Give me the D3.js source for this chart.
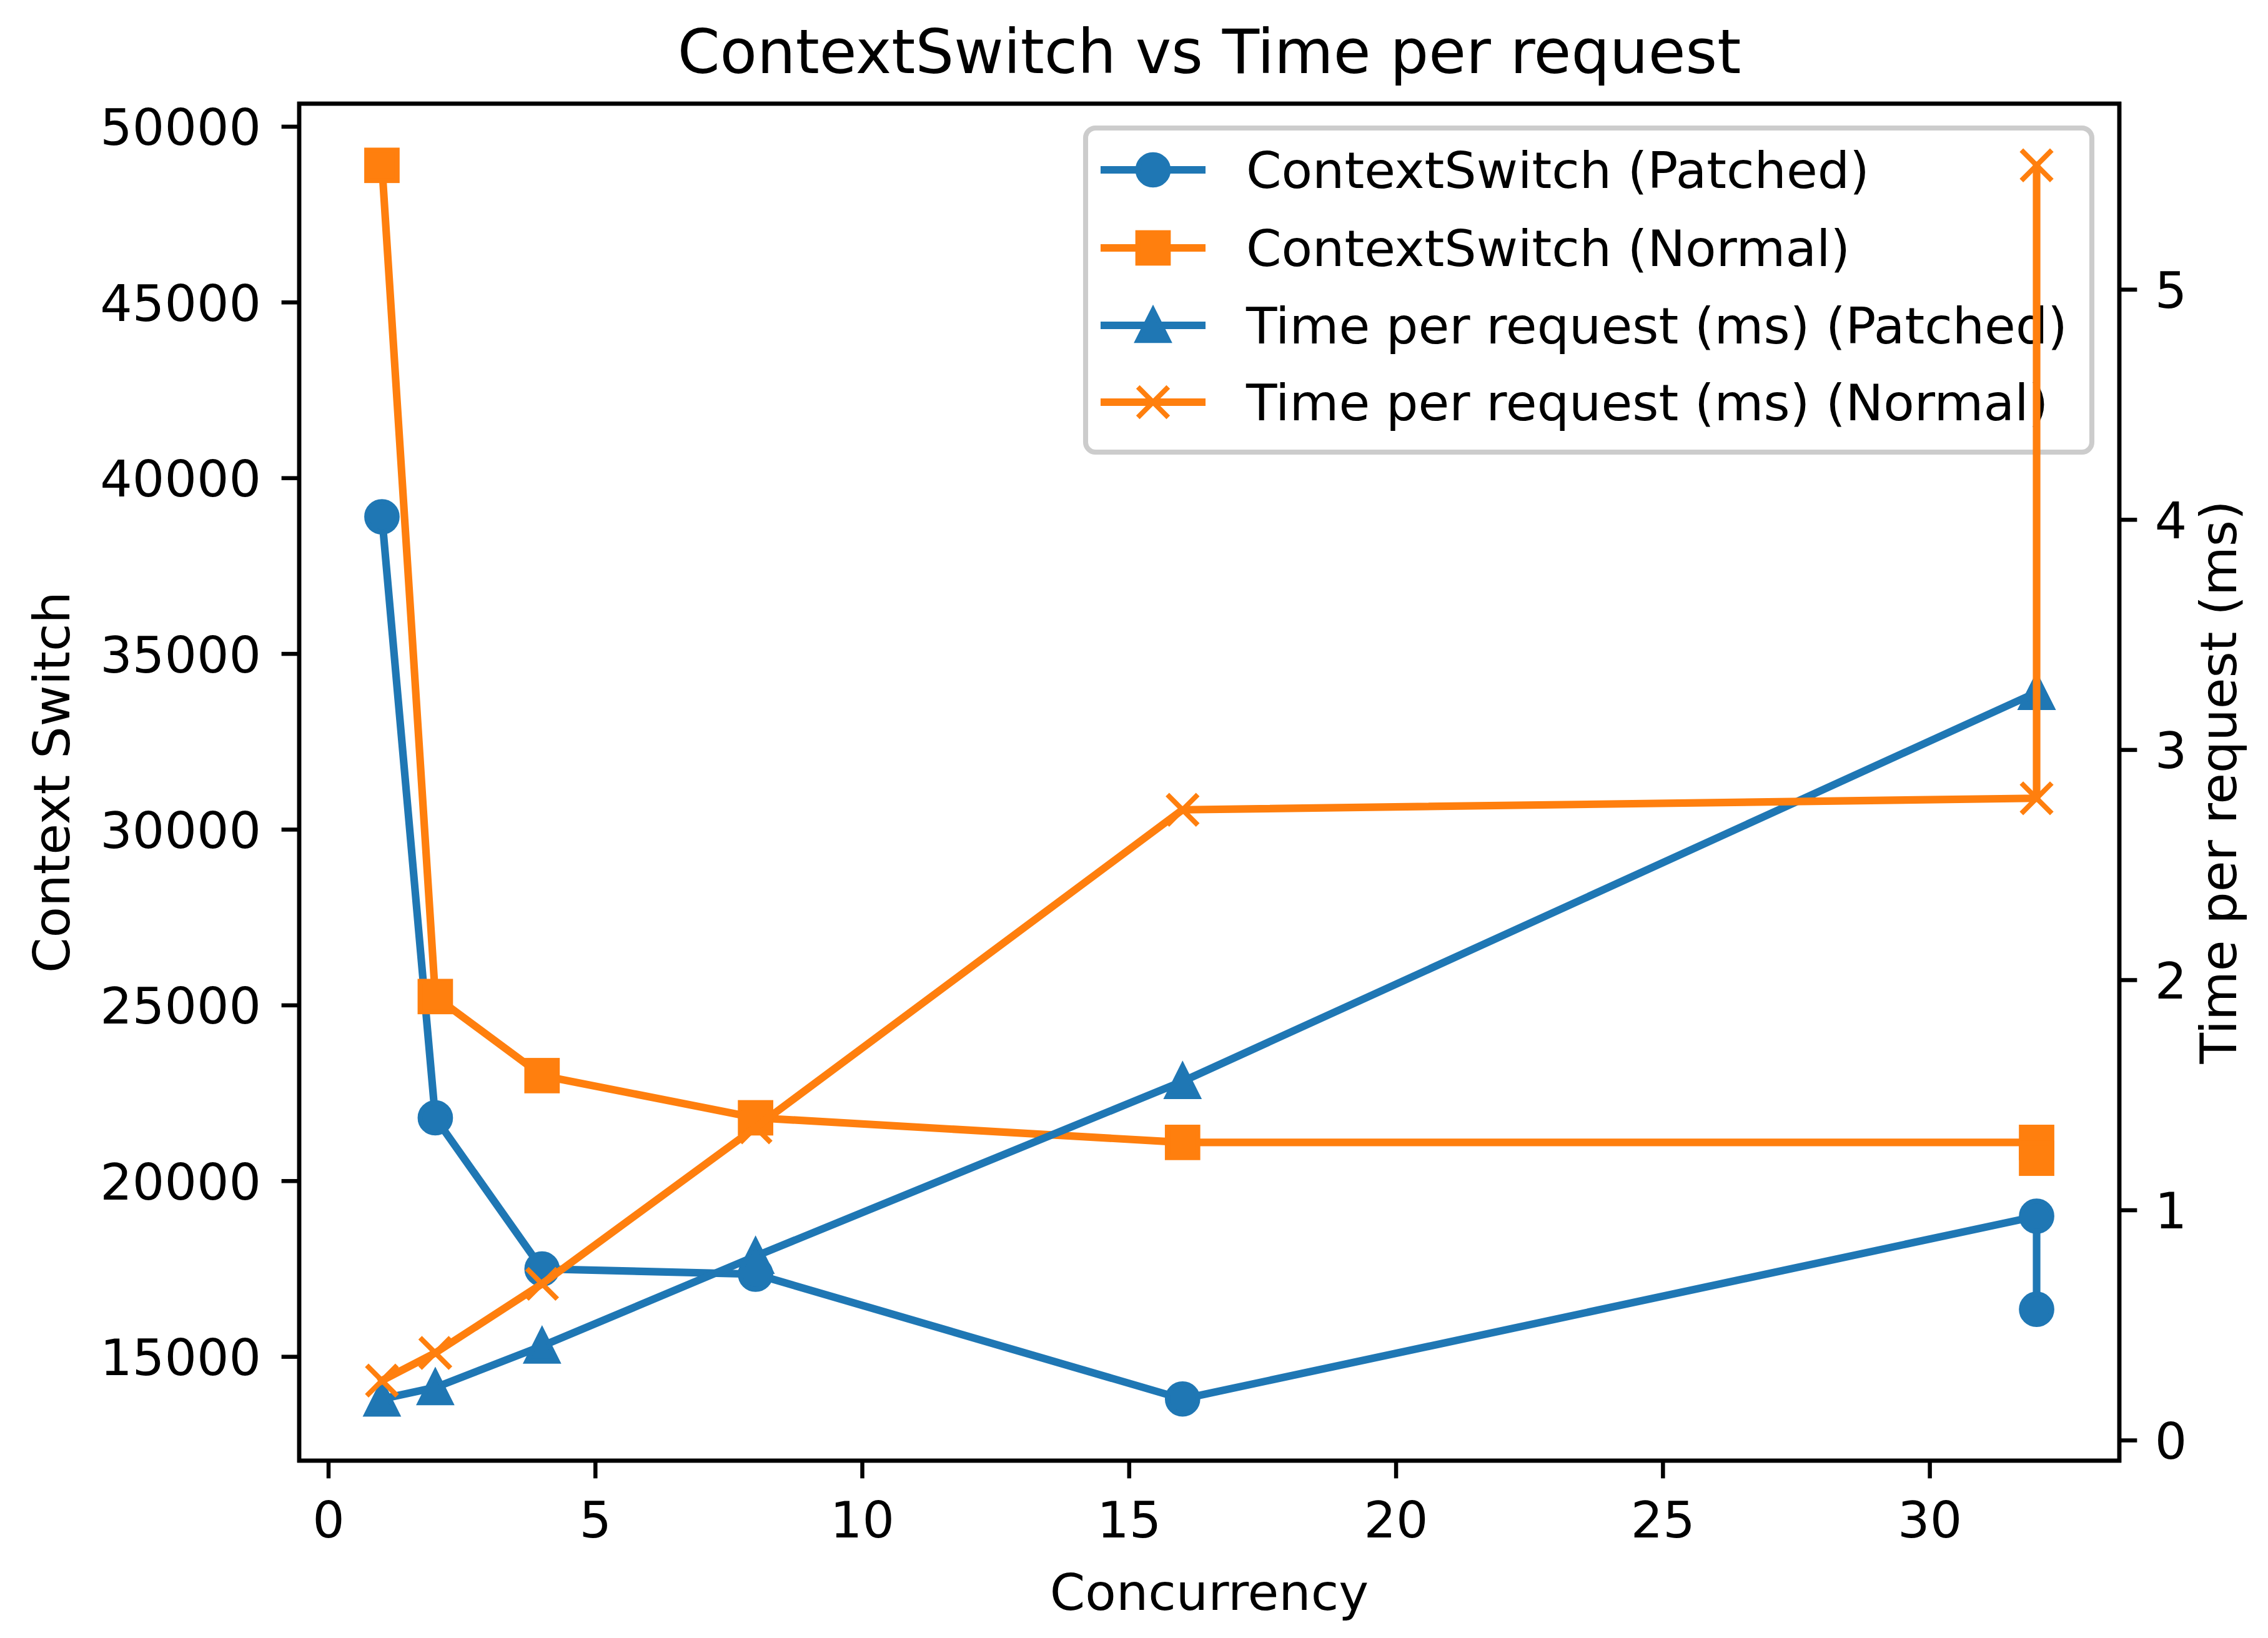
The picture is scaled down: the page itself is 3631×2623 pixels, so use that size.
<!DOCTYPE html>
<html>
<head>
<meta charset="utf-8">
<script src="https://cdn.jsdelivr.net/npm/d3@7"></script>
<style>
html, body { margin: 0; padding: 0; background: #ffffff; }
svg { display: block; }
text { font-family: "DejaVu Sans", sans-serif; fill: #000; }
</style>
</head>
<body>
<svg id="chart" width="3631" height="2623"></svg>
<script>
// ---------------- data ----------------
const concurrency = [1, 2, 4, 8, 16, 32, 32];
const csPatched   = [38900, 21800, 17500, 17350, 13800, 19000, 16350];
const csNormal    = [48900, 25250, 23000, 21800, 21100, 21100, 20650];
const tprPatched  = [0.18, 0.23, 0.41, 0.80, 1.56, 3.25, 3.25];
const tprNormal   = [0.26, 0.38, 0.68, 1.36, 2.74, 2.79, 5.54];

const xTicks      = [0, 5, 10, 15, 20, 25, 30];
const yLeftTicks  = [15000, 20000, 25000, 30000, 35000, 40000, 45000, 50000];
const yRightTicks = [0, 1, 2, 3, 4, 5];

const titleText   = "ContextSwitch vs Time per request";
const xLabelText  = "Concurrency";
const yLeftLabel  = "Context Switch";
const yRightLabel = "Time per request (ms)";

const seriesNames = [
  "ContextSwitch (Patched)",
  "ContextSwitch (Normal)",
  "Time per request (ms) (Patched)",
  "Time per request (ms) (Normal)"
];

// ---------------- layout ----------------
const C0 = "#1f77b4", C1 = "#ff7f0e";
const PT = 8.1;                 // px per point
const FS = 10 * PT;             // base font size
const LW = 1.5 * PT;            // line width
const MS = 6 * PT;              // marker size
const AXW = 0.8 * PT;           // spine / tick width
const TL = 3.5 * PT;            // tick length
const plot = { left: 479, right: 3393, top: 166, bottom: 2339 };

function padded(vals) {
  const lo = d3.min(vals), hi = d3.max(vals), m = (hi - lo) * 0.05;
  return [lo - m, hi + m];
}

const x = d3.scaleLinear().domain(padded(concurrency)).range([plot.left, plot.right]);
const yL = d3.scaleLinear().domain(padded(csPatched.concat(csNormal))).range([plot.bottom, plot.top]);
const yR = d3.scaleLinear().domain(padded(tprPatched.concat(tprNormal))).range([plot.bottom, plot.top]);

const svg = d3.select("#chart");

// marker drawing helper
function drawMarker(g, type, cx, cy, color) {
  const s = MS;
  if (type === "o") {
    g.append("circle").attr("cx", cx).attr("cy", cy).attr("r", s / 2)
      .attr("fill", color).attr("stroke", color).attr("stroke-width", PT);
  } else if (type === "s") {
    g.append("rect").attr("x", cx - s / 2).attr("y", cy - s / 2).attr("width", s).attr("height", s)
      .attr("fill", color).attr("stroke", color).attr("stroke-width", PT);
  } else if (type === "^") {
    const h = s / 2;
    g.append("path")
      .attr("d", `M${cx},${cy - h}L${cx - h},${cy + h}L${cx + h},${cy + h}Z`)
      .attr("fill", color).attr("stroke", color).attr("stroke-width", PT).attr("stroke-linejoin", "miter");
  } else if (type === "x") {
    const h = s / 2;
    g.append("path")
      .attr("d", `M${cx - h},${cy - h}L${cx + h},${cy + h}M${cx - h},${cy + h}L${cx + h},${cy - h}`)
      .attr("fill", "none").attr("stroke", color).attr("stroke-width", PT);
  }
}

function drawSeries(g, xs, ys, yScale, color, marker) {
  const pts = xs.map((d, i) => [x(d), yScale(ys[i])]);
  g.append("path")
    .attr("d", d3.line()(pts))
    .attr("fill", "none").attr("stroke", color).attr("stroke-width", LW)
    .attr("stroke-linejoin", "round").attr("stroke-linecap", "square");
  pts.forEach(p => drawMarker(g, marker, p[0], p[1], color));
}

// ---------------- axes 1 (left) ----------------
const ax1 = svg.append("g");
drawSeries(ax1, concurrency, csPatched, yL, C0, "o");
drawSeries(ax1, concurrency, csNormal, yL, C1, "s");

// spines of ax1
ax1.append("rect")
  .attr("x", plot.left).attr("y", plot.top)
  .attr("width", plot.right - plot.left).attr("height", plot.bottom - plot.top)
  .attr("fill", "none").attr("stroke", "#000").attr("stroke-width", AXW);

// x ticks
const xt = ax1.append("g");
xTicks.forEach(t => {
  xt.append("line").attr("x1", x(t)).attr("x2", x(t))
    .attr("y1", plot.bottom).attr("y2", plot.bottom + TL)
    .attr("stroke", "#000").attr("stroke-width", AXW);
  xt.append("text").attr("x", x(t)).attr("y", 2462)
    .attr("text-anchor", "middle").attr("font-size", FS).text(t);
});

// left y ticks
const ylt = ax1.append("g");
yLeftTicks.forEach(t => {
  ylt.append("line").attr("x1", plot.left - TL).attr("x2", plot.left)
    .attr("y1", yL(t)).attr("y2", yL(t))
    .attr("stroke", "#000").attr("stroke-width", AXW);
  ylt.append("text").attr("x", 418).attr("y", yL(t) + 0.364 * FS)
    .attr("text-anchor", "end").attr("font-size", FS).text(t);
});

// axis labels
svg.append("text").attr("x", (plot.left + plot.right) / 2).attr("y", 2578)
  .attr("text-anchor", "middle").attr("font-size", FS).text(xLabelText);
svg.append("text")
  .attr("transform", `translate(111,${(plot.top + plot.bottom) / 2}) rotate(-90)`)
  .attr("text-anchor", "middle").attr("font-size", FS).text(yLeftLabel);

// title
svg.append("text").attr("x", (plot.left + plot.right) / 2).attr("y", 117)
  .attr("text-anchor", "middle").attr("font-size", 12 * PT).text(titleText);

// ---------------- legend (belongs to ax1) ----------------
const leg = svg.append("g");
const legBox = { x: 1738, y: 205, w: 1611, h: 519 };
leg.append("rect")
  .attr("x", legBox.x).attr("y", legBox.y).attr("width", legBox.w).attr("height", legBox.h)
  .attr("rx", 16).attr("ry", 16)
  .attr("fill", "#ffffff").attr("fill-opacity", 0.8)
  .attr("stroke", "#cccccc").attr("stroke-width", PT);
const legColors = [C0, C1, C0, C1];
const legMarkers = ["o", "s", "^", "x"];
const legRowY = [272, 397, 521, 644];
seriesNames.forEach((name, i) => {
  const cy = legRowY[i];
  leg.append("line").attr("x1", 1762).attr("x2", 1930).attr("y1", cy).attr("y2", cy)
    .attr("stroke", legColors[i]).attr("stroke-width", LW);
  drawMarker(leg, legMarkers[i], 1846, cy, legColors[i]);
  leg.append("text").attr("x", 1995).attr("y", cy + 0.364 * FS)
    .attr("font-size", FS).text(name);
});

// ---------------- axes 2 (right, twin) ----------------
const ax2 = svg.append("g");
drawSeries(ax2, concurrency, tprPatched, yR, C0, "^");
drawSeries(ax2, concurrency, tprNormal, yR, C1, "x");

ax2.append("rect")
  .attr("x", plot.left).attr("y", plot.top)
  .attr("width", plot.right - plot.left).attr("height", plot.bottom - plot.top)
  .attr("fill", "none").attr("stroke", "#000").attr("stroke-width", AXW);

const yrt = ax2.append("g");
yRightTicks.forEach(t => {
  yrt.append("line").attr("x1", plot.right).attr("x2", plot.right + TL)
    .attr("y1", yR(t)).attr("y2", yR(t))
    .attr("stroke", "#000").attr("stroke-width", AXW);
  yrt.append("text").attr("x", plot.right + 2 * TL).attr("y", yR(t) + 0.364 * FS)
    .attr("text-anchor", "start").attr("font-size", FS).text(t);
});

svg.append("text")
  .attr("transform", `translate(3580,${(plot.top + plot.bottom) / 2}) rotate(-90)`)
  .attr("text-anchor", "middle").attr("font-size", FS).text(yRightLabel);
</script>
</body>
</html>
